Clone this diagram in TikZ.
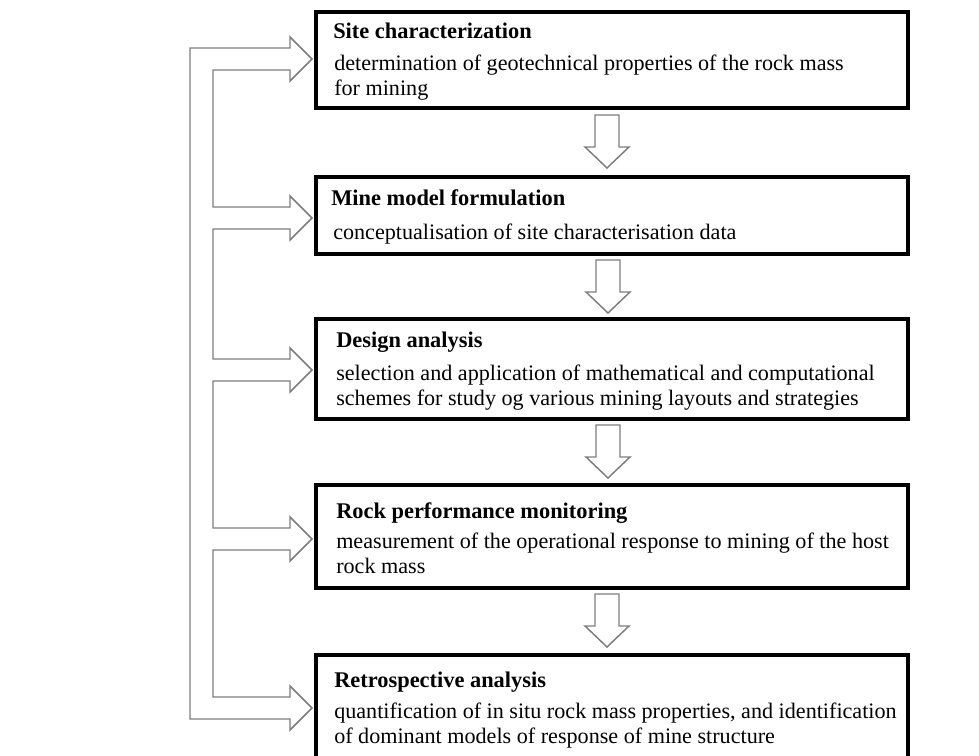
\documentclass[tikz,border=0pt]{standalone}
\usepackage{fontspec}
\setmainfont{Liberation Serif}
\usetikzlibrary{fit}
\definecolor{arrowgray}{RGB}{125,125,125}
\begin{document}
\begin{tikzpicture}[x=0.75pt,y=-0.75pt,
  stagebox/.style={draw=black, line width=2.3pt, fill=white, inner sep=0pt},
  ttl/.style={anchor=base west, inner sep=0pt, font=\fontsize{16.8}{20}\selectfont\bfseries},
  body/.style={anchor=base west, inner sep=0pt, font=\fontsize{16.6}{20}\selectfont},
  hollow/.style={draw=arrowgray, line width=1.1pt, fill=white, line join=miter},
  downarrow/.pic={\draw[hollow] (-12,0) -- (12,0) -- (12,32) -- (22,32) -- (0,53) -- (-22,32) -- (-12,32) -- cycle;}]
\useasboundingbox (0,0) rectangle (979,756);
\clip (0,0) rectangle (979,756);

% stage boxes
\node[stagebox, fit={(316,12) (908,108)}] (box1) {};
\node[stagebox, fit={(316,177) (908,254)}] (box2) {};
\node[stagebox, fit={(316,319) (908,419)}] (box3) {};
\node[stagebox, fit={(316,485) (908,588)}] (box4) {};
\node[stagebox, fit={(316,655) (908,790)}] (box5) {};

% texts
\node[ttl] (t1) at (333,39) {Site characterization};
\node[body] (d1a) at (334,71) {determination of geotechnical properties of the rock mass};
\node[body] (d1b) at (334,96) {for mining};
\node[ttl] (t2) at (331,206) {Mine model formulation};
\node[body] (d2a) at (333,240) {conceptualisation of site characterisation data};
\node[ttl] (t3) at (336,347) {Design analysis};
\node[body] (d3a) at (336,380) {selection and application of mathematical and computational};
\node[body] (d3b) at (336,405) {schemes for study og various mining layouts and strategies};
\node[ttl] (t4) at (336,518) {Rock performance monitoring};
\node[body] (d4a) at (336,548) {measurement of the operational response to mining of the host};
\node[body] (d4b) at (336,573) {rock mass};
\node[ttl] (t5) at (334,687) {Retrospective analysis};
\node[body] (d5a) at (334,718) {quantification of in situ rock mass properties, and identification};
\node[body] (d5b) at (334,743) {of dominant models of response of mine structure};

% down block arrows
\pic at (607,115) {downarrow};
\pic at (608,260) {downarrow};
\pic at (608,425) {downarrow};
\pic at (607,594) {downarrow};

% feedback double-line arrows
\draw[hollow] (290,719) -- (190,719) -- (190,48) -- (290,48) -- (290,37) -- (312,59) -- (290,81) -- (290,70)
  -- (213,70) -- (213,207) -- (290,207) -- (290,196) -- (312,218) -- (290,240) -- (290,229)
  -- (213,229) -- (213,359) -- (290,359) -- (290,348) -- (312,370) -- (290,392) -- (290,381)
  -- (213,381) -- (213,528) -- (290,528) -- (290,517) -- (312,539) -- (290,561) -- (290,550)
  -- (213,550) -- (213,697) -- (290,697) -- (290,686) -- (312,708) -- (290,730) -- cycle;
\end{tikzpicture}
\end{document}
